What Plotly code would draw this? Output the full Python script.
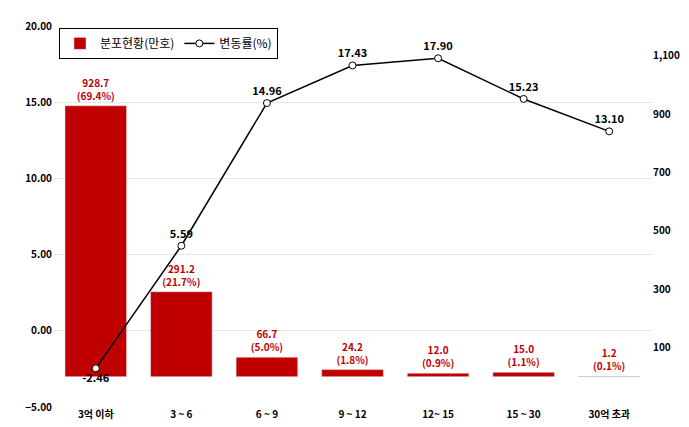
import plotly.graph_objects as go

categories = ["3억 이하", "3 ~ 6", "6 ~ 9", "9 ~ 12", "12~ 15", "15 ~ 30", "30억 초과"]
dist = [928.7, 291.2, 66.7, 24.2, 12.0, 15.0, 1.2]
share = ["69.4%", "21.7%", "5.0%", "1.8%", "0.9%", "1.1%", "0.1%"]
change = [-2.46, 5.59, 14.96, 17.43, 17.90, 15.23, 13.10]

fig = go.Figure()
fig.add_trace(go.Bar(
    x=categories, y=dist, name="분포현황(만호)", yaxis="y",
    marker_color="#C00000", width=0.72,
    text=[f"<b>{v:.1f}<br>({s})</b>" for v, s in zip(dist, share)],
    textposition="outside", textfont=dict(color="#C00000", size=10, family="Noto Sans CJK KR"),
    cliponaxis=False,
))
fig.add_trace(go.Scatter(
    x=categories, y=change, name="변동률(%)", mode="lines+markers+text", yaxis="y2",
    line=dict(color="black", width=1.5),
    marker=dict(color="white", size=7, line=dict(color="black", width=1)),
    text=[f"<b>{v:.2f}</b>" for v in change],
    textposition=["bottom center"] + ["top center"] * 6,
    textfont=dict(color="black", size=11, family="Noto Sans CJK KR"),
    cliponaxis=False,
))
fig.update_layout(
    width=689, height=427, margin=dict(l=45, r=45, t=10, b=28),
    plot_bgcolor="white", paper_bgcolor="white",
    font=dict(family="Noto Sans CJK KR", size=10, color="black"),
    showlegend=True,
    legend=dict(orientation="h", x=0.01, y=0.995, xanchor="left", yanchor="top",
                bordercolor="black", borderwidth=1, font=dict(size=12), bgcolor="white",
                traceorder="normal"),
    xaxis=dict(showline=False, tickfont=dict(size=10, family="Noto Sans CJK KR", weight="bold")),
    yaxis=dict(range=[-104, 1202], side="right",
               tickvals=[100, 300, 500, 700, 900, 1100], tickformat=",",
               showgrid=False, zeroline=False, tickfont=dict(size=10, weight="bold")),
    yaxis2=dict(range=[-5, 20.02], overlaying="y", side="left",
                tickvals=[-5, 0, 5, 10, 15, 20], tickformat=".2f",
                showgrid=True, gridcolor="#e6e6e6", zeroline=False,
                tickfont=dict(size=10, weight="bold")),
    bargap=0.3,
)
fig.write_html("out.html")
